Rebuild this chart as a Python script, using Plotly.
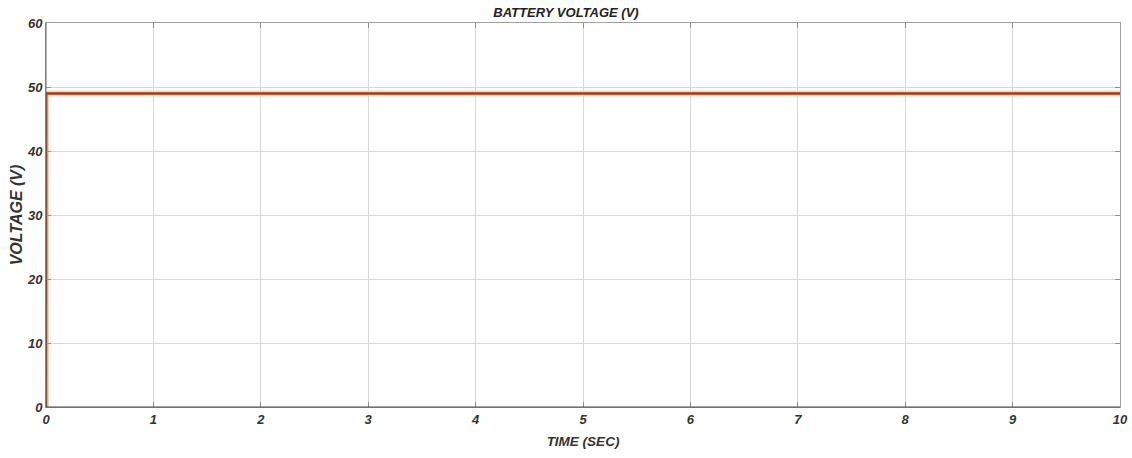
import plotly.graph_objects as go

time_sec = [0, 0.002, 10]
voltage_v = [0, 49, 49]
x_ticks = list(range(0, 11))
y_ticks = [0, 10, 20, 30, 40, 50, 60]

FAM = "Liberation Sans, Arial, sans-serif"
tick_font = dict(family=FAM, size=13, color="#333333", weight="bold", style="italic")

fig = go.Figure()
fig.add_trace(go.Scatter(x=time_sec, y=voltage_v, mode="lines",
                         line=dict(color="#F6D2B8", width=6), hoverinfo="skip", showlegend=False))
fig.add_trace(go.Scatter(x=time_sec, y=voltage_v, mode="lines",
                         line=dict(color="#9C3E1A", width=2.5), showlegend=False))

fig.update_layout(
    width=1132, height=458,
    margin=dict(l=46, r=12, t=23, b=51),
    paper_bgcolor="white", plot_bgcolor="white",
    font=tick_font,
    title=dict(text="BATTERY VOLTAGE (V)", x=0.5, xanchor="center",
               yref="container", y=1 - 12 / 458, yanchor="middle",
               font=dict(family=FAM, size=13, color="#222222", weight="bold", style="italic")),
    shapes=[
        dict(type="line", xref="paper", yref="paper", x0=0, x1=1, y0=0, y1=0,
             line=dict(color="#444444", width=1.2)),
        dict(type="line", xref="paper", yref="paper", x0=0, x1=0, y0=0, y1=1,
             line=dict(color="#666666", width=1)),
    ],
)
fig.update_xaxes(range=[0, 10], tickvals=x_ticks, ticktext=[str(v) for v in x_ticks],
                 showgrid=True, gridcolor="#D8D8D8", gridwidth=1,
                 showline=True, linecolor="#A0A0A0", linewidth=1, mirror="ticks",
                 ticks="inside", ticklen=5, tickcolor="#909090", zeroline=False,
                 automargin=False,
                 title=dict(text="TIME (SEC)", standoff=10,
                            font=dict(family=FAM, size=13.5, color="#333333", weight="bold", style="italic")),
                 tickfont=tick_font)
fig.update_yaxes(range=[0, 60], tickvals=y_ticks, ticktext=[str(v) for v in y_ticks],
                 showgrid=True, gridcolor="#D8D8D8", gridwidth=1,
                 showline=True, linecolor="#A0A0A0", linewidth=1, mirror="ticks",
                 ticks="inside", ticklen=5, tickcolor="#909090", zeroline=False,
                 automargin=False,
                 title=dict(text="VOLTAGE (V)", standoff=0,
                            font=dict(family=FAM, size=16, color="#333333", weight="bold", style="italic")),
                 tickfont=tick_font)

fig.write_html("out.html", config={"displayModeBar": False},
               post_script="document.body.style.margin='0';document.body.style.overflow='hidden';")
